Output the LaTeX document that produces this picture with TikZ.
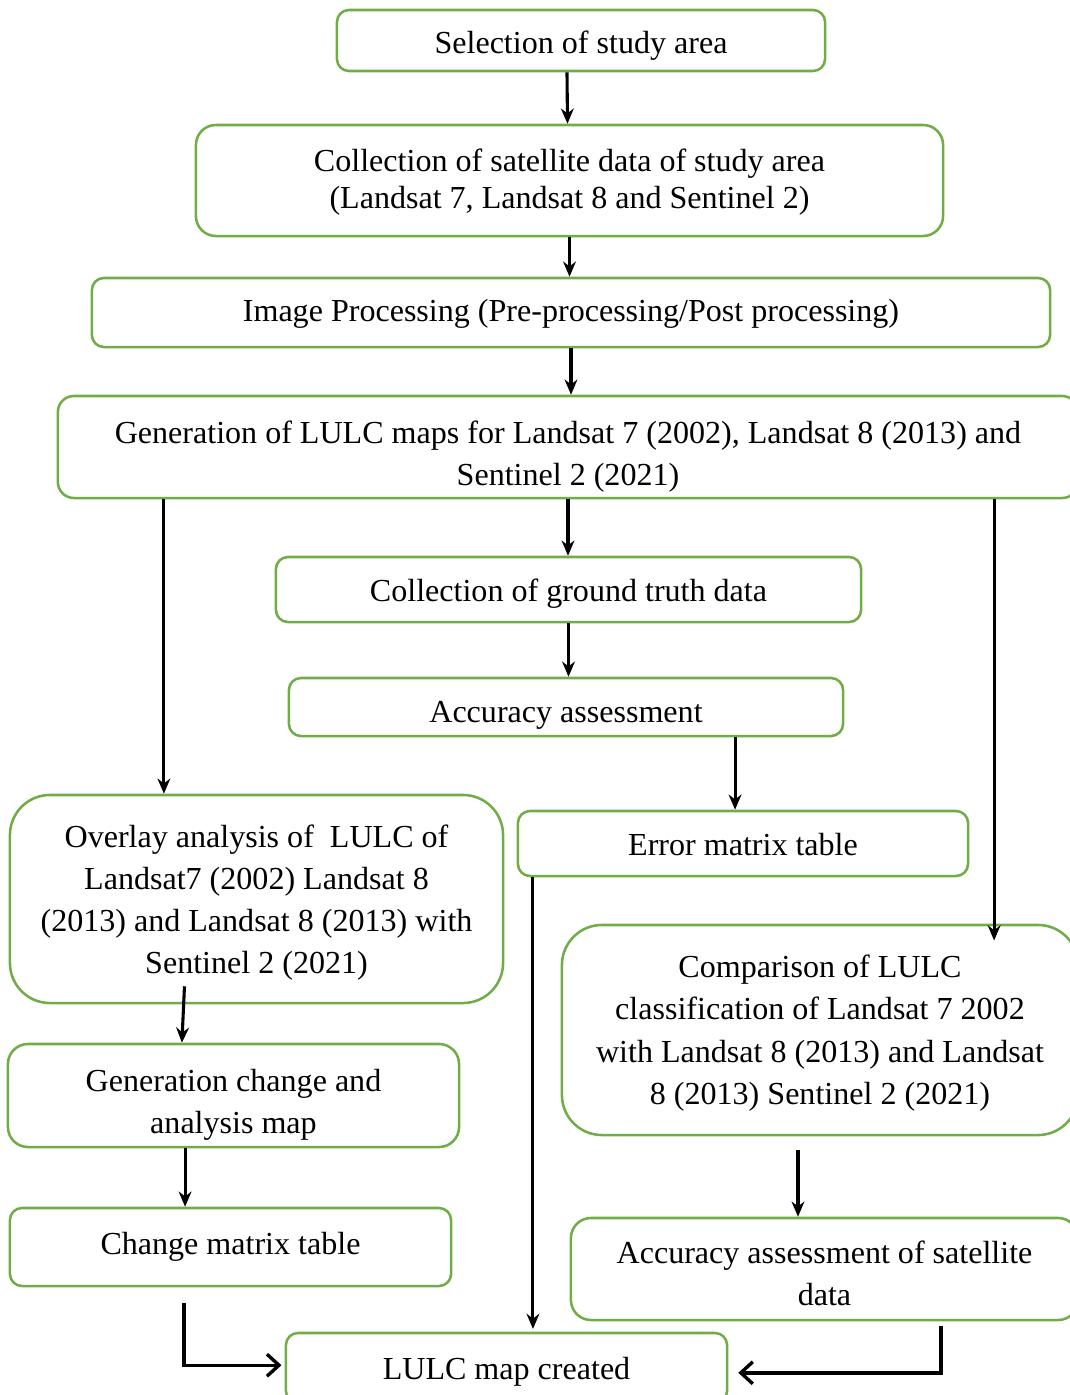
\documentclass[tikz,border=0pt]{standalone}
\usepackage{fontspec}
\setmainfont{Liberation Serif}
\usetikzlibrary{arrows.meta}
\definecolor{boxgreen}{HTML}{70AD47}
\newcommand{\padtop}[1]{\rule{0pt}{#1}}
\tikzset{
  box/.style={draw=boxgreen, line width=1.8pt, rounded corners=0.3cm, align=center, inner sep=0pt},
  arr/.style={draw, line width=2.2pt, -{Stealth[length=0.38cm,width=0.32cm]}},
  barb/.style={draw, line width=2.4pt, -{Straight Barb[length=0.3cm,width=0.55cm]}}
}
\begin{document}
\begin{tikzpicture}[x=0.025cm,y=-0.025cm,font=\fontsize{22.8pt}{29.9pt}\selectfont]
\useasboundingbox (0,0) rectangle (1070,1395);
\node[box, minimum width=12.2cm, minimum height=1.525cm] (area) at (581,40.5) {\padtop{0.81cm}Selection of study area};
\node[box, minimum width=18.675cm, minimum height=2.775cm, rounded corners=0.5cm, font=\fontsize{22.8pt}{26.3pt}\selectfont] (sat) at (569.5,180.5) {\padtop{0.65cm}Collection of satellite data of study area\\(Landsat 7, Landsat 8 and Sentinel 2)};
\node[box, minimum width=23.95cm, minimum height=1.725cm] (proc) at (571,312.5) {\padtop{0.62cm}Image Processing (Pre-processing/Post processing)};
\node[box, minimum width=25.5cm, minimum height=2.55cm, rounded corners=0.4cm] (lulc) at (568,447) {\padtop{1.06cm}Generation of LULC maps for Landsat 7 (2002), Landsat 8 (2013) and\\Sentinel 2 (2021)};
\node[box, minimum width=14.625cm, minimum height=1.625cm] (truth) at (568.5,589.5) {\padtop{0.76cm}Collection of ground truth data};
\node[box, minimum width=13.85cm, minimum height=1.45cm] (acc) at (566,707) {\padtop{0.96cm}Accuracy assessment};
\node[box, minimum width=11.25cm, minimum height=1.625cm] (err) at (743,843.5) {\padtop{0.62cm}Error matrix table};
\node[box, minimum width=12.325cm, minimum height=5.2cm, rounded corners=1cm] (over) at (256.5,899) {\padtop{0.76cm}Overlay analysis of \ LULC of\\Landsat7 (2002) Landsat 8\\(2013) and Landsat 8 (2013) with\\Sentinel 2 (2021)};
\node[box, minimum width=12.9cm, minimum height=5.25cm, rounded corners=1cm] (comp) at (820,1030) {\padtop{0.72cm}Comparison of LULC\\classification of Landsat 7 2002\\with Landsat 8 (2013) and Landsat\\8 (2013) Sentinel 2 (2021)};
\node[box, minimum width=11.275cm, minimum height=2.575cm, rounded corners=0.5cm] (chg) at (233.5,1095.5) {\padtop{1.0cm}Generation change and\\analysis map};
\node[box, minimum width=11.025cm, minimum height=1.95cm] (cmat) at (230.5,1247) {Change matrix table};
\node[box, minimum width=12.675cm, minimum height=2.55cm, rounded corners=0.5cm] (sacc) at (824.5,1269) {\padtop{0.76cm}Accuracy assessment of satellite\\data};
\node[box, minimum width=11.025cm, minimum height=1.75cm] (final) at (506.5,1368) {\padtop{0.72cm}LULC map created};
% main column
\path[arr] ([xshift=-0.35cm]area.south) -- ([xshift=-0.05cm]sat.north);
\path[arr] (sat.south) -- (sat.south |- proc.north);
\path[arr] (proc.south) -- (proc.south |- lulc.north);
\path[arr] (lulc.south) -- (lulc.south |- truth.north);
\path[arr] (truth.south) -- (truth.south |- acc.north);
\path[arr] ([xshift=4.225cm]acc.south) -- ([xshift=4.225cm]acc.south |- err.north);
% side branches
\path[arr] ([xshift=-10.1cm]lulc.south) -- ([xshift=-10.1cm]lulc.south |- over.north);
\path[arr] ([xshift=10.65cm]lulc.south) -- ([xshift=10.65cm,yshift=-0.42cm]lulc.south |- comp.north);
\path[arr] ([xshift=-5.25cm]err.south) -- ([xshift=-5.25cm,yshift=0.07cm]err.south |- final.north);
\path[arr] ([xshift=-1.8cm,yshift=0.45cm]over.south) -- ([xshift=-1.29cm]chg.north);
\path[arr] ([xshift=-1.21cm]chg.south) -- ([xshift=-1.21cm]chg.south |- cmat.north);
\path[arr] ([xshift=-0.55cm,yshift=-0.33cm]comp.south) -- ([xshift=-0.55cm]comp.south |- sacc.north);
% into the last box
\path[barb] ([xshift=-1.16cm,yshift=-0.4cm]cmat.south) |- ([xshift=-0.08cm,yshift=0.07cm]final.west);
\path[barb] ([xshift=2.91cm,yshift=-0.12cm]sacc.south) |- ([xshift=0.25cm,yshift=-0.12cm]final.east);
\end{tikzpicture}
\end{document}
